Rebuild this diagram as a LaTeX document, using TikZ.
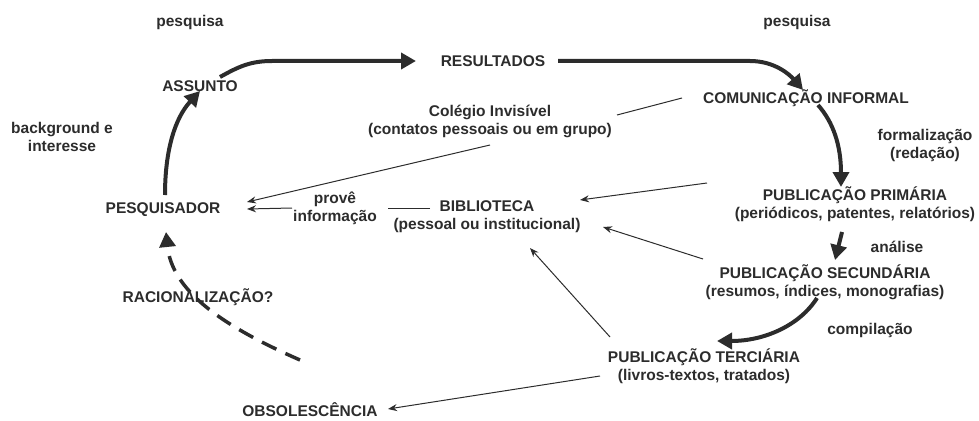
\documentclass[tikz,border=0pt]{standalone}
\usepackage{fontspec}
\setmainfont{Liberation Sans}
\usetikzlibrary{arrows.meta,calc}
\definecolor{ink}{HTML}{2c2c2c}
\tikzset{
  x=1pt,y=-1pt,
  lbl/.style={font=\bfseries\fontsize{15.5}{18}\selectfont,text=ink,inner sep=0pt,align=center},
  thk/.style={draw=ink,line width=4pt,-{Triangle[length=15pt,width=16pt]}},
  dsh/.style={draw=ink,line width=3.5pt,dash pattern=on 16pt off 10pt,-{Triangle[length=15pt,width=16pt]}},
  thn/.style={draw=ink,line width=1pt},
  thna/.style={draw=ink,line width=1pt,-{Stealth[length=9pt,width=7pt]}}
}
\begin{document}
\begin{tikzpicture}
\useasboundingbox (0,0) rectangle (979,420);
\node[lbl] (pq1) at (190,22) {pesquisa};
\node[lbl] (pq2) at (797,22) {pesquisa};
\node[lbl] (assunto) at (200,86) {ASSUNTO};
\node[lbl] (result) at (493,61) {RESULTADOS};
\node[lbl] (colegio) at (490,121) {Colégio Invisível\\(contatos pessoais ou em grupo)};
\node[lbl] (comunic) at (806,98) {COMUNICAÇÃO INFORMAL};
\node[lbl] (bg) at (62,137) {background e\\interesse};
\node[lbl] (formal) at (925,145) {formalização\\(redação)};
\node[lbl] (pesquisador) at (163,210) {PESQUISADOR};
\node[lbl] (prove) at (335,208) {provê\\informação};
\node[lbl] (biblio) at (487,217) {BIBLIOTECA\\(pessoal ou institucional)};
\node[lbl] (prim) at (855,204) {PUBLICAÇÃO PRIMÁRIA\\(periódicos, patentes, relatórios)};
\node[lbl] (analise) at (897,247) {análise};
\node[lbl] (sec) at (825,282) {PUBLICAÇÃO SECUNDÁRIA\\(resumos, índices, monografias)};
\node[lbl] (compil) at (870,330) {compilação};
\node[lbl] (terc) at (704,366) {PUBLICAÇÃO TERCIÁRIA\\(livros-textos, tratados)};
\node[lbl] (obsol) at (310,410) {OBSOLESCÊNCIA};
\node[lbl] (racional) at (198,297) {RACIONALIZAÇÃO?};

% thick main flow
\draw[thk] ($(assunto)+(20,-9)$) .. controls (238,67) and (250,61) .. (272,61) -- ($(result)+(-77,0)$);
\draw[thk] ($(result)+(65,0)$) -- (750,61) .. controls (775,61) and (790,75) .. ($(comunic)+(-3,-8)$);
\draw[thk] ($(comunic)+(12,7)$) .. controls (833,122) and (841,145) .. ($(prim)+(-14,-17)$);
\draw[thk] ($(prim)+(-13,28)$) -- ($(sec)+(10,-22)$);
\draw[thk] ($(sec)+(-8,16)$) .. controls (800,325) and (765,341) .. ($(terc)+(13,-25)$);
\draw[thk] ($(pesquisador)+(2,-15)$) .. controls (165,150) and (175,118) .. ($(assunto)+(0,5)$);
\draw[dsh] ($(racional)+(102,63)$) .. controls (220,325) and (172,290) .. ($(pesquisador)+(3,22)$);

% thin connectors
\draw[thn] ($(comunic)+(-124,0)$) -- ($(colegio)+(127,-6)$);
\draw[thna] ($(colegio)+(0,24)$) -- ($(pesquisador)+(84,-8)$);
\draw[thn] ($(biblio)+(-57,-9)$) -- ($(prove)+(53,0)$);
\draw[thna] ($(prove)+(-43,0)$) -- ($(pesquisador)+(84,-1)$);
\draw[thna] ($(prim)+(-148,-21)$) -- ($(biblio)+(93,-17)$);
\draw[thna] ($(sec)+(-122,-23)$) -- ($(biblio)+(116,10)$);
\draw[thna] ($(terc)+(-94,-29)$) -- ($(biblio)+(43,31)$);
\draw[thna] ($(terc)+(-104,10)$) -- ($(obsol)+(78,-1)$);
\end{tikzpicture}
\end{document}
